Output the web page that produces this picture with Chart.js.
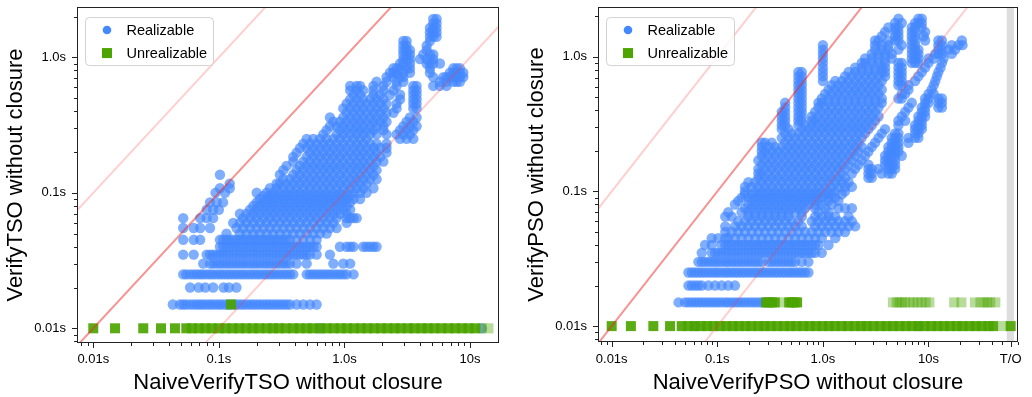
<!DOCTYPE html>
<html>
<head>
<meta charset="utf-8">
<script src="https://cdn.jsdelivr.net/npm/chart.js@4.4.1/dist/chart.umd.min.js"></script>
<style>
  html, body { margin: 0; padding: 0; background: #fff; }
  #wrap { position: relative; width: 1032px; height: 397px; }
  #tso { position: absolute; left: 0; top: 0; }
  #pso { position: absolute; left: 515px; top: 0; }
</style>
</head>
<body>
<div id="wrap">
  <canvas id="tso" width="510" height="397"></canvas>
  <canvas id="pso" width="517" height="397"></canvas>
</div>
<script>
// ---- data: each row is [y, [x, x, ...]] (seconds) ----
const seriesNames = ['Realizable', 'Unrealizable'];

const tsoRealizable = [
  [0.01, [0.64, 12.4]],
  [0.015, [0.043, 0.049, 0.052, 0.055, 0.059, 0.063, 0.067, 0.071, 0.075, 0.08, 0.085, 0.09, 0.096, 0.102, 0.108, 0.115, 0.122, 0.13, 0.138, 0.147, 0.156, 0.166, 0.177, 0.188, 0.2, 0.212, 0.226, 0.24, 0.255, 0.271, 0.288, 0.306, 0.326, 0.346, 0.368, 0.416, 0.47, 0.531, 0.6]],
  [0.02, [0.059, 0.069, 0.078, 0.09, 0.109, 0.12, 0.138]],
  [0.025, [0.052, 0.055, 0.059, 0.063, 0.067, 0.071, 0.075, 0.08, 0.085, 0.09, 0.096, 0.102, 0.108, 0.115, 0.122, 0.13, 0.138, 0.147, 0.156, 0.166, 0.177, 0.188, 0.2, 0.212, 0.226, 0.24, 0.255, 0.271, 0.288, 0.306, 0.326, 0.346, 0.368, 0.391, 0.5, 0.531, 0.565, 0.6, 0.638, 0.678, 0.721, 0.766, 0.815, 0.866, 0.92, 0.978, 1.04, 1.18]],
  [0.03, [0.075, 0.085, 0.09, 0.096, 0.102, 0.108, 0.115, 0.122, 0.13, 0.138, 0.147, 0.156, 0.166, 0.177, 0.188, 0.2, 0.212, 0.226, 0.24, 0.255, 0.271, 0.288, 0.306, 0.326, 0.346, 0.368, 0.416, 0.5, 0.815, 0.978, 1.11]],
  [0.035, [0.052, 0.063, 0.08, 0.085, 0.09, 0.096, 0.102, 0.108, 0.115, 0.122, 0.13, 0.138, 0.147, 0.156, 0.166, 0.177, 0.188, 0.2, 0.212, 0.226, 0.24, 0.255, 0.271, 0.288, 0.306, 0.326, 0.346, 0.368, 0.391, 0.416, 0.442, 0.47, 0.5, 0.531, 0.6, 0.766]],
  [0.04, [0.102, 0.108, 0.115, 0.122, 0.13, 0.138, 0.147, 0.156, 0.166, 0.177, 0.188, 0.2, 0.212, 0.226, 0.24, 0.255, 0.271, 0.288, 0.306, 0.326, 0.346, 0.368, 0.391, 0.416, 0.442, 0.47, 0.5, 0.531, 0.565, 0.6, 0.92, 1.04, 1.11, 1.18, 1.41, 1.5, 1.6, 1.7, 1.8]],
  [0.045, [0.052, 0.063, 0.071, 0.102, 0.108, 0.115, 0.122, 0.13, 0.138, 0.147, 0.156, 0.166, 0.177, 0.188, 0.2, 0.212, 0.226, 0.24, 0.255, 0.271, 0.288, 0.306, 0.326, 0.346, 0.368, 0.416, 0.47, 0.531, 0.6]],
  [0.05, [0.115, 0.147, 0.166, 0.188, 0.212, 0.24, 0.271, 0.306, 0.346, 0.391, 0.442, 0.5, 0.565, 0.638, 0.721]],
  [0.055, [0.052, 0.063, 0.071, 0.085, 0.138, 0.156, 0.177, 0.2, 0.226, 0.255, 0.288, 0.326, 0.368, 0.416, 0.47, 0.531, 0.6, 0.678, 0.766, 0.866]],
  [0.06, [0.13, 0.147, 0.166, 0.188, 0.212, 0.24, 0.271, 0.306, 0.346, 0.391, 0.442, 0.5, 0.565, 0.638, 0.721, 0.815, 1.04]],
  [0.065, [0.052, 0.071, 0.08, 0.09, 0.156, 0.177, 0.2, 0.226, 0.255, 0.288, 0.326, 0.368, 0.416, 0.47, 0.531, 0.6, 0.678, 0.766, 0.866, 1.04, 1.11, 1.18, 1.25]],
  [0.07, [0.147, 0.166, 0.188, 0.212, 0.24, 0.271, 0.306, 0.346, 0.391, 0.442, 0.5, 0.565, 0.638, 0.721, 0.815, 0.92, 1.04]],
  [0.075, [0.08, 0.09, 0.1, 0.177, 0.2, 0.226, 0.255, 0.288, 0.326, 0.368, 0.416, 0.47, 0.531, 0.6, 0.678, 0.766, 0.866, 0.978, 1.11]],
  [0.08, [0.188, 0.212, 0.24, 0.271, 0.306, 0.346, 0.391, 0.442, 0.5, 0.565, 0.638, 0.721, 0.815, 0.92, 1.04]],
  [0.085, [0.085, 0.096, 0.108, 0.2, 0.226, 0.255, 0.288, 0.326, 0.368, 0.416, 0.47, 0.531, 0.6, 0.678, 0.766, 0.866, 0.978, 1.11]],
  [0.09, [0.212, 0.24, 0.271, 0.306, 0.346, 0.391, 0.442, 0.5, 0.565, 0.638, 0.721, 0.815, 0.92, 1.04, 1.18, 1.33]],
  [0.095, [0.226, 0.255, 0.288, 0.326, 0.368, 0.416, 0.47, 0.531, 0.6, 0.678, 0.766, 0.866, 0.978, 1.11]],
  [0.1, [0.094, 0.112, 0.2, 0.24, 0.271, 0.306, 0.346, 0.391, 0.442, 0.5, 0.565, 0.638, 0.721, 0.815, 0.92, 1.04, 1.18, 1.33, 1.5]],
  [0.108, [0.102, 0.122, 0.255, 0.288, 0.326, 0.368, 0.416, 0.47, 0.531, 0.6, 0.678, 0.766, 0.866, 0.978, 1.11, 1.25, 1.41, 1.7]],
  [0.117, [0.122, 0.288, 0.306, 0.346, 0.391, 0.442, 0.5, 0.565, 0.638, 0.721, 0.815, 0.92, 1.04, 1.18, 1.33, 1.5]],
  [0.126, [0.326, 0.368, 0.416, 0.47, 0.531, 0.6, 0.678, 0.766, 0.866, 0.978, 1.11, 1.25, 1.41, 1.6, 1.8]],
  [0.136, [0.102, 0.306, 0.391, 0.442, 0.5, 0.565, 0.638, 0.721, 0.815, 0.92, 1.04, 1.18, 1.33, 1.5, 1.7]],
  [0.147, [0.326, 0.416, 0.47, 0.531, 0.6, 0.678, 0.766, 0.866, 0.978, 1.11, 1.25, 1.41, 1.6, 1.8]],
  [0.158, [0.346, 0.442, 0.5, 0.565, 0.638, 0.721, 0.815, 0.92, 1.04, 1.18, 1.33, 1.5, 1.7]],
  [0.17, [0.391, 0.47, 0.531, 0.6, 0.678, 0.766, 0.866, 0.978, 1.11, 1.25, 1.41, 1.6, 1.8, 2.04]],
  [0.184, [0.391, 0.5, 0.565, 0.638, 0.721, 0.815, 0.92, 1.04, 1.18, 1.33, 1.5, 1.7, 1.92]],
  [0.198, [0.416, 0.531, 0.6, 0.678, 0.766, 0.866, 0.978, 1.11, 1.25, 1.41, 1.6, 1.8, 2.16]],
  [0.214, [0.442, 0.5, 0.565, 0.638, 0.721, 0.815, 0.92, 1.04, 1.18, 1.33, 1.5, 1.7, 1.92, 2.16]],
  [0.23, [0.47, 0.531, 0.6, 0.678, 0.766, 0.866, 0.978, 1.11, 1.25, 1.41, 1.6, 1.8, 2.16]],
  [0.25, [0.5, 0.565, 0.638, 0.721, 0.815, 0.92, 1.04, 1.18, 1.33, 1.5, 2.77, 3.12, 3.53]],
  [0.27, [0.678, 0.866, 0.978, 1.11, 1.25, 1.41, 1.6, 1.8, 2.16, 2.6, 2.94, 3.32]],
  [0.29, [0.721, 0.92, 1.04, 1.18, 1.33, 1.5, 1.7, 2.04, 2.77, 3.12, 3.53]],
  [0.31, [0.766, 0.866, 0.978, 1.11, 1.25, 1.41, 1.6, 1.8, 2.04, 2.94, 3.32, 3.75]],
  [0.335, [0.815, 0.92, 1.04, 1.18, 1.33, 1.5, 1.7, 1.92, 2.16, 3.12, 3.53]],
  [0.36, [0.766, 0.978, 1.11, 1.25, 1.41, 1.6, 1.8, 2.04, 3.32, 3.75]],
  [0.39, [1.04, 1.18, 1.33, 1.5, 1.7, 1.92, 2.16, 2.45]],
  [0.42, [0.978, 1.11, 1.25, 1.41, 1.6, 1.8, 2.04, 2.6, 3.53, 3.75]],
  [0.455, [1.04, 1.18, 1.33, 1.5, 1.7, 1.92, 2.16, 2.6, 3.53, 3.75]],
  [0.49, [1.11, 1.25, 1.41, 1.6, 1.8, 2.04, 2.77, 3.53, 3.75]],
  [0.53, [1.18, 1.33, 1.7, 1.92, 2.3, 2.77, 3.53, 3.75]],
  [0.57, [1.11, 1.25, 1.41, 1.7, 2.04, 2.45, 3.53, 3.75]],
  [0.615, [1.11, 1.25, 1.33, 1.7, 2.04, 2.6, 3.53, 3.75, 5.09, 5.75, 6.5]],
  [0.66, [1.8, 2.16, 2.6, 2.94, 5.75, 6.5, 7.35, 7.81, 8.3]],
  [0.715, [2.16, 2.45, 2.77, 2.94, 5.09, 6.12, 6.5, 6.91, 7.35, 7.81, 8.3, 8.83]],
  [0.77, [2.3, 2.45, 2.6, 2.94, 3.32, 4.79, 6.91, 7.35, 7.81, 8.3, 8.83]],
  [0.83, [2.45, 2.6, 2.77, 3.12, 3.32, 4.79, 7.35, 7.81, 8.3]],
  [0.9, [2.77, 2.94, 3.32, 4.51, 4.79, 5.09, 5.75]],
  [0.97, [2.94, 3.12, 3.32, 3.99, 4.51, 5.09]],
  [1.05, [2.94, 3.12, 3.32, 4.24, 4.79, 5.09]],
  [1.13, [2.94, 3.12, 3.32, 4.51]],
  [1.22, [2.94, 3.12, 4.51]],
  [1.32, [2.94, 3.12, 4.79]],
  [1.42, [4.79, 5.09, 5.41]],
  [1.53, [4.79, 5.09, 5.41]],
  [1.65, [4.79, 5.09, 5.41]],
  [1.78, [5.09, 5.41]],
  [1.92, [5.09, 5.41]]
];
const tsoUnrealizable = [
  [0.01, [0.01, 0.0149, 0.025, 0.0346, 0.0447, 0.055, 0.061, 0.069, 0.078, 0.088, 0.1, 0.113, 0.128, 0.145, 0.164, 0.186, 0.21, 0.24, 0.27, 0.3, 0.34, 0.39, 0.44, 0.5, 0.56, 0.64, 0.72, 0.82, 0.93, 1.05, 1.19, 1.35, 1.52, 1.72, 1.95, 2.2, 2.5, 2.8, 3.2, 3.6, 4.1, 4.6, 5.2, 5.9, 6.7, 7.6, 8.6, 9.7, 11]],
  [0.015, [0.125]]
];
const tsoUnrealizableFaint = [
  [0.01, [12.4, 14]]
];

const psoRealizable = [
  [0.01, [0.062, 8.1]],
  [0.015, [0.043, 0.0495, 0.0533, 0.0573, 0.0616, 0.0662, 0.0712, 0.0766, 0.0824, 0.0886, 0.0953, 0.102, 0.11, 0.119, 0.127, 0.137, 0.147, 0.158, 0.17, 0.183, 0.197, 0.212, 0.228, 0.245, 0.264, 0.283]],
  [0.02, [0.0533, 0.0573, 0.0616, 0.0662, 0.0712, 0.0824, 0.0953, 0.11, 0.127, 0.147]],
  [0.025, [0.0533, 0.0573, 0.0616, 0.0662, 0.0712, 0.0766, 0.0824, 0.0886, 0.0953, 0.102, 0.11, 0.119, 0.127, 0.137, 0.147, 0.158, 0.17, 0.183, 0.197, 0.212, 0.228, 0.245, 0.264, 0.283, 0.305, 0.328, 0.352, 0.379, 0.408, 0.439, 0.472, 0.507, 0.545, 0.586, 0.631, 0.678, 0.729]],
  [0.03, [0.0662, 0.0712, 0.0766, 0.0824, 0.0886, 0.0953, 0.102, 0.11, 0.119, 0.127, 0.137, 0.147, 0.158, 0.17, 0.183, 0.197, 0.212, 0.228, 0.245, 0.264, 0.305, 0.328, 0.352, 0.379, 0.408, 0.439, 0.472, 0.507, 0.545, 0.631, 0.729]],
  [0.035, [0.0712, 0.0886, 0.0953, 0.102, 0.11, 0.119, 0.127, 0.137, 0.147, 0.158, 0.17, 0.183, 0.197, 0.212, 0.228, 0.245, 0.264, 0.283, 0.305, 0.328, 0.352, 0.379, 0.408, 0.439, 0.472, 0.507, 0.545, 0.586, 0.631, 0.678, 0.729, 0.785, 0.844, 0.976]],
  [0.04, [0.0766, 0.0886, 0.11, 0.119, 0.127, 0.137, 0.147, 0.158, 0.17, 0.183, 0.197, 0.212, 0.228, 0.245, 0.264, 0.283, 0.305, 0.328, 0.352, 0.379, 0.408, 0.439, 0.472, 0.507, 0.545, 0.586, 0.631, 0.678, 0.729, 0.785, 0.844, 0.907, 1.13]],
  [0.045, [0.0886, 0.102, 0.119, 0.127, 0.147, 0.17, 0.197, 0.228, 0.264, 0.305, 0.352, 0.408, 0.472, 0.545, 0.631, 0.729, 0.844, 0.976, 1.31]],
  [0.05, [0.119, 0.137, 0.158, 0.183, 0.212, 0.245, 0.283, 0.328, 0.379, 0.439, 0.507, 0.586, 0.678, 0.785, 0.907, 1.05, 1.21, 1.4, 1.62]],
  [0.055, [0.119, 0.147, 0.17, 0.197, 0.228, 0.264, 0.305, 0.352, 0.408, 0.472, 0.545, 0.631, 0.844, 0.976, 1.13, 1.31, 1.51, 1.75, 2.02]],
  [0.06, [0.158, 0.183, 0.212, 0.245, 0.283, 0.328, 0.379, 0.439, 0.507, 0.586, 0.785, 0.907, 1.05, 1.21, 1.4, 1.62, 1.88]],
  [0.065, [0.119, 0.137, 0.197, 0.228, 0.264, 0.305, 0.352, 0.408, 0.472, 0.631, 0.844, 0.976, 1.13, 1.31, 1.75]],
  [0.07, [0.127, 0.17, 0.197, 0.228, 0.264, 0.305, 0.352, 0.408, 0.472, 0.545, 0.631, 0.907, 1.13]],
  [0.075, [0.183, 0.212, 0.245, 0.283, 0.328, 0.379, 0.439, 0.507, 0.586, 0.678, 0.844, 1.05, 1.4, 1.62, 1.88]],
  [0.08, [0.147, 0.197, 0.228, 0.264, 0.305, 0.352, 0.408, 0.472, 0.545, 0.631, 0.729, 0.844, 0.976, 1.21]],
  [0.085, [0.158, 0.212, 0.245, 0.283, 0.328, 0.379, 0.439, 0.507, 0.586, 0.678, 0.785, 0.907, 1.13, 1.4]],
  [0.09, [0.17, 0.197, 0.228, 0.264, 0.305, 0.352, 0.408, 0.472, 0.545, 0.631, 0.729, 0.844, 0.976, 1.13, 1.31]],
  [0.095, [0.183, 0.212, 0.245, 0.283, 0.328, 0.379, 0.439, 0.507, 0.586, 0.678, 0.785, 0.907, 1.05, 1.21, 1.51]],
  [0.1, [0.183, 0.228, 0.264, 0.305, 0.352, 0.408, 0.472, 0.545, 0.631, 0.729, 0.844, 0.976, 1.13, 1.31, 1.62]],
  [0.108, [0.183, 0.212, 0.245, 0.283, 0.328, 0.379, 0.439, 0.507, 0.586, 0.678, 0.785, 0.907, 1.05, 1.21, 1.4, 1.62, 1.88]],
  [0.117, [0.197, 0.228, 0.264, 0.305, 0.352, 0.408, 0.472, 0.545, 0.631, 0.729, 0.844, 0.976, 1.13, 1.31, 1.51, 1.75]],
  [0.126, [0.245, 0.283, 0.328, 0.379, 0.439, 0.507, 0.586, 0.678, 0.785, 0.907, 1.05, 1.21, 1.4, 1.62, 2.7, 2.9]],
  [0.136, [0.245, 0.264, 0.305, 0.352, 0.408, 0.472, 0.545, 0.631, 0.729, 0.844, 0.976, 1.13, 1.31, 1.51, 1.88, 2.7, 2.9, 3.61, 4.17, 4.49]],
  [0.147, [0.245, 0.283, 0.328, 0.379, 0.439, 0.507, 0.586, 0.678, 0.785, 0.907, 1.05, 1.21, 1.4, 1.62, 2.02, 2.7, 2.9, 3.36, 4.17, 4.49, 4.83]],
  [0.158, [0.264, 0.305, 0.352, 0.408, 0.472, 0.545, 0.631, 0.729, 0.844, 0.976, 1.13, 1.31, 1.51, 1.75, 2.17, 2.7, 3.88, 4.17, 4.49, 4.83]],
  [0.17, [0.245, 0.283, 0.328, 0.379, 0.439, 0.507, 0.586, 0.678, 0.785, 0.907, 1.05, 1.21, 1.4, 1.62, 1.88, 2.33, 3.88, 4.17, 4.49, 4.83]],
  [0.184, [0.264, 0.305, 0.352, 0.408, 0.472, 0.545, 0.631, 0.729, 0.844, 0.976, 1.13, 1.31, 1.51, 1.75, 2.02, 2.51, 3.88, 4.17, 4.49, 4.83, 5.58]],
  [0.198, [0.264, 0.283, 0.328, 0.379, 0.439, 0.507, 0.586, 0.678, 0.785, 0.907, 1.05, 1.21, 1.4, 1.62, 1.88, 2.17, 2.7, 4.17, 4.49, 4.83, 5.19]],
  [0.214, [0.264, 0.305, 0.352, 0.408, 0.472, 0.545, 0.631, 0.729, 0.844, 0.976, 1.13, 1.31, 1.51, 1.75, 2.02, 2.33, 2.9, 4.17, 4.49, 4.83, 5.19]],
  [0.23, [0.264, 0.283, 0.328, 0.439, 0.507, 0.586, 0.678, 0.785, 0.907, 1.05, 1.21, 1.4, 1.62, 1.88, 2.17, 3.12, 4.49, 4.83, 5.19, 6.46]],
  [0.25, [0.408, 0.472, 0.545, 0.631, 0.729, 0.844, 0.976, 1.13, 1.31, 1.51, 1.75, 2.02, 2.33, 3.36, 4.49, 4.83, 5.19, 6.46, 7.47, 8.03]],
  [0.27, [0.439, 0.507, 0.586, 0.678, 0.785, 0.907, 1.05, 1.21, 1.4, 1.62, 1.88, 2.17, 2.51, 3.61, 4.83, 5.19, 7.47, 8.03]],
  [0.29, [0.408, 0.472, 0.631, 0.729, 0.844, 0.976, 1.13, 1.31, 1.51, 1.75, 2.02, 2.33, 2.7, 3.88, 7.47, 8.03, 8.64]],
  [0.31, [0.408, 0.439, 0.586, 0.678, 0.785, 0.907, 1.05, 1.21, 1.4, 1.62, 1.88, 2.17, 2.51, 2.9, 5.19, 7.47, 8.03, 8.64]],
  [0.335, [0.408, 0.439, 0.586, 0.631, 0.785, 0.844, 0.976, 1.13, 1.31, 1.51, 1.75, 2.02, 2.33, 2.7, 3.12, 5.19, 6.01, 8.03, 8.64]],
  [0.36, [0.408, 0.439, 0.586, 0.631, 0.785, 0.907, 1.05, 1.21, 1.4, 1.62, 1.88, 2.17, 2.51, 2.9, 3.36, 5.58, 8.03, 8.64, 9.29]],
  [0.39, [0.408, 0.439, 0.586, 0.631, 0.844, 0.976, 1.13, 1.31, 1.51, 1.75, 2.02, 2.33, 2.7, 3.12, 6.01, 8.64, 9.29]],
  [0.42, [0.439, 0.586, 0.631, 0.907, 1.05, 1.21, 1.4, 1.62, 1.88, 2.17, 2.51, 2.9, 3.36, 6.46, 8.64, 9.29, 12.4, 13.4]],
  [0.455, [0.439, 0.586, 0.631, 0.907, 0.976, 1.13, 1.31, 1.51, 1.75, 2.02, 2.33, 2.7, 3.12, 3.61, 6.95, 9.29, 10, 12.4, 13.4]],
  [0.49, [0.586, 0.631, 0.976, 1.13, 1.31, 1.51, 1.75, 2.02, 2.33, 2.7, 3.12, 3.61, 5.19, 5.58, 9.29, 10, 12.4, 13.4]],
  [0.53, [0.586, 0.631, 1.05, 1.21, 1.4, 1.62, 1.88, 2.17, 2.51, 2.9, 3.36, 5.58, 6.01, 10, 11.2]],
  [0.57, [0.586, 0.631, 1.13, 1.31, 1.51, 1.75, 2.02, 2.33, 2.7, 3.12, 3.61, 6.46, 10.7]],
  [0.615, [0.586, 0.631, 1.21, 1.4, 1.62, 1.88, 2.17, 2.51, 2.9, 3.36, 5.19, 5.58, 6.46, 11.2]],
  [0.66, [0.586, 0.631, 1.0, 1.31, 1.51, 1.75, 2.02, 2.33, 2.7, 3.12, 3.61, 5.19, 5.58, 7.47, 11.6]],
  [0.715, [0.586, 0.631, 1.0, 1.62, 1.88, 2.17, 2.51, 2.9, 3.36, 3.88, 5.19, 5.58, 8.03, 12]],
  [0.77, [0.586, 0.631, 1.0, 1.75, 2.02, 2.33, 2.7, 3.12, 3.61, 3.88, 5.19, 5.58, 8.64, 12.4]],
  [0.83, [1.0, 2.02, 2.33, 2.7, 3.12, 3.61, 3.88, 5.19, 5.58, 9.29, 13]],
  [0.9, [1.0, 2.33, 2.51, 2.9, 3.36, 3.88, 5.19, 5.58, 6.95, 7.47, 8.03, 10, 13.4]],
  [0.97, [1.0, 2.51, 2.9, 3.36, 3.88, 4.49, 6.95, 7.47, 8.03, 10, 11.2, 13.9]],
  [1.05, [1.0, 2.9, 3.36, 3.88, 4.49, 6.95, 7.47, 8.03, 11.6, 12.4, 13.4, 16.6]],
  [1.13, [1.0, 3.12, 3.61, 4.17, 5.19, 6.95, 7.47, 8.03, 12.4, 13.4, 15.5, 17.9]],
  [1.22, [1.0, 3.12, 3.61, 4.17, 5.58, 6.95, 7.47, 12.4, 13.4, 16.6, 19.2, 21]],
  [1.32, [3.12, 3.36, 4.17, 4.83, 5.19, 6.95, 7.47, 9.29, 12.4, 13.4, 20.7]],
  [1.42, [3.61, 4.83, 5.19, 6.95, 7.47, 9]],
  [1.53, [3.88, 4.83, 5.19, 6.95, 7.47, 9.29]],
  [1.65, [4.17, 4.83, 5.19, 6.95, 7.47, 8.64]],
  [1.78, [4.83, 5.58, 7.47, 8.03, 8.64]],
  [1.92, [5.19, 8.03, 8.64]]
];
const psoUnrealizable = [
  [0.01, [0.01, 0.0152, 0.0248, 0.0357, 0.046, 0.053, 0.061, 0.07, 0.08, 0.092, 0.106, 0.122, 0.14, 0.16, 0.185, 0.21, 0.245, 0.28, 0.32, 0.37, 0.43, 0.49, 0.56, 0.65, 0.75, 0.86, 0.99, 1.14, 1.3, 1.5, 1.73, 2.0, 2.3, 2.6, 3.0, 3.5, 4.0, 4.6, 5.3, 6.1, 7.0, 8.0, 9.2, 10.6, 12.2, 14, 16, 18.5, 21, 24.5, 28, 32, 37, 41, 60]],
  [0.015, [0.29, 0.31, 0.33, 0.35, 0.48, 0.51, 0.54, 0.57]]
];
const psoUnrealizableFaint = [
  [0.01, [51]],
  [0.015, [0.42, 4.6, 5.0, 5.3, 5.6, 6.0, 6.6, 7.2, 7.9, 8.6, 9.4, 10.2, 17.5, 20.5, 27.5, 31, 34, 36, 38.5, 43]]
];

// axis ticks and labels
const tsoXTicks = [0.01, 0.1, 1, 10];
const tsoXTickLabels = ['0.01s', '0.1s', '1.0s', '10s'];
const psoXTicks = [0.01, 0.1, 1, 10, 60];
const psoXTickLabels = ['0.01s', '0.1s', '1.0s', '10s', 'T/O'];
const yTicks = [0.01, 0.1, 1];
const yTickLabels = ['0.01s', '0.1s', '1.0s'];

// reference lines y = f * x, and the timeout band (seconds)
const diagonalFactors = [1, 10, 0.1];
const timeoutBand = [55, 64.5];

const FONT = '"Liberation Sans", Arial, sans-serif';
const BLUE = 'rgba(68, 136, 255, 0.68)';
const GREEN = 'rgba(76, 164, 0, 0.92)';
const GREEN_FAINT = 'rgba(76, 164, 0, 0.4)';

function toPoints(rows) {
    return rows.flatMap(([y, xs]) => xs.map(x => ({ x: x, y: y })));
}

function isNear(a, b) {
    return Math.abs(a - b) / b < 1e-6;
}

// 1..9 x 10^n inside the range, plus the labelled ones
function tickValues(min, max, majors) {
    const out = [];
    for (let e = -3; e <= 2; e++) {
        for (let k = 1; k <= 9; k++) {
            const v = k * Math.pow(10, e);
            if (v >= min && v <= max) out.push(v);
        }
    }
    majors.forEach(m => { if (!out.some(v => isNear(v, m))) out.push(m); });
    return out.sort((a, b) => a - b);
}

function logAxis(opt) {
    const values = tickValues(opt.min, opt.max, opt.majors);
    return {
        type: 'logarithmic',
        position: opt.position,
        min: opt.min,
        max: opt.max,
        bounds: 'data',
        afterBuildTicks: scale => {
            scale.ticks = values.map(v => ({ value: v, major: opt.majors.some(m => isNear(v, m)) }));
        },
        afterFit: scale => {
            if (opt.position === 'bottom') scale.height = opt.size;
            else scale.width = opt.size;
            scale.paddingLeft = scale.paddingRight = scale.paddingTop = scale.paddingBottom = 0;
        },
        ticks: {
            autoSkip: false,
            maxRotation: 0,
            minRotation: 0,
            padding: opt.tickPadding,
            color: '#000',
            font: { family: FONT, size: 13 },
            callback: value => {
                const i = opt.majors.findIndex(m => isNear(value, m));
                return i >= 0 ? opt.labels[i] : '';
            }
        },
        grid: { display: true, drawOnChartArea: false, drawTicks: true, tickLength: 5, tickColor: 'rgba(0,0,0,0)' },
        border: { display: false },
        title: {
            display: true,
            text: opt.title,
            color: '#000',
            font: { family: FONT, size: 22 },
            padding: opt.titlePadding
        }
    };
}

// frame, tick marks, timeout band and the legend box
const panelDecor = {
    id: 'panelDecor',
    beforeDatasetsDraw(chart, args, opts) {
        if (!opts.band) return;
        const { ctx, chartArea: a, scales: { x } } = chart;
        const x0 = x.getPixelForValue(opts.band[0]);
        const x1 = x.getPixelForValue(opts.band[1]);
        ctx.save();
        ctx.fillStyle = 'rgba(0, 0, 0, 0.13)';
        ctx.fillRect(x0, a.top, x1 - x0, a.bottom - a.top);
        ctx.restore();
    },
    afterDraw(chart, args, opts) {
        const { ctx, chartArea: a, scales: { x, y } } = chart;
        ctx.save();
        ctx.strokeStyle = '#222';
        ctx.lineWidth = 1;

        // tick marks
        ctx.beginPath();
        x.ticks.forEach(t => {
            const px = Math.round(x.getPixelForValue(t.value)) + 0.5;
            if (px < a.left - 1 || px > a.right + 1) return;
            const len = t.major ? 5 : 3;
            ctx.moveTo(px, a.bottom);
            ctx.lineTo(px, a.bottom + len);
        });
        y.ticks.forEach(t => {
            const py = Math.round(y.getPixelForValue(t.value)) + 0.5;
            if (py < a.top - 1 || py > a.bottom + 1) return;
            const len = t.major ? 5 : 3;
            ctx.moveTo(a.left, py);
            ctx.lineTo(a.left - len, py);
        });
        ctx.stroke();

        // frame
        ctx.strokeRect(Math.round(a.left) + 0.5, Math.round(a.top) + 0.5,
            Math.round(a.right - a.left) - 1, Math.round(a.bottom - a.top) - 1);

        // legend
        const bx = a.left + 8.5, by = a.top + 10.5, bw = 128, bh = 48;
        ctx.beginPath();
        ctx.roundRect(bx, by, bw, bh, 4);
        ctx.fillStyle = 'rgba(255, 255, 255, 0.8)';
        ctx.fill();
        ctx.strokeStyle = 'rgba(204, 204, 204, 0.9)';
        ctx.stroke();

        ctx.fillStyle = 'rgb(68, 136, 255)';
        ctx.beginPath();
        ctx.arc(bx + 21.5, by + 12.5, 4.3, 0, Math.PI * 2);
        ctx.fill();
        ctx.fillStyle = 'rgb(76, 164, 0)';
        ctx.fillRect(bx + 16.5, by + 30.5, 10, 10);

        ctx.fillStyle = '#000';
        ctx.font = '14.5px ' + FONT;
        ctx.textBaseline = 'middle';
        ctx.fillText(seriesNames[0], bx + 41, by + 13);
        ctx.fillText(seriesNames[1], bx + 41, by + 36);
        ctx.restore();
    }
};

function diagonal(f, xMin, xMax) {
    return {
        type: 'line',
        data: [{ x: xMin, y: xMin * f }, { x: xMax, y: xMax * f }],
        borderColor: f === 1 ? 'rgba(238, 40, 40, 0.5)' : 'rgba(255, 50, 50, 0.24)',
        borderWidth: 2,
        pointRadius: 0,
        fill: false,
        clip: 0,
        order: 0
    };
}

function makePanel(canvasId, cfg) {
    const datasets = [
        {
            label: seriesNames[0],
            data: toPoints(cfg.realizable),
            pointStyle: 'circle',
            pointRadius: 5.2,
            pointHoverRadius: 5.2,
            pointBorderWidth: 0,
            backgroundColor: BLUE,
            clip: 0,
            order: 3
        },
        {
            label: seriesNames[1] + ' (faint)',
            data: toPoints(cfg.unrealizableFaint),
            pointStyle: 'rect',
            pointRadius: 7.07,
            pointHoverRadius: 7.07,
            pointBorderWidth: 0,
            backgroundColor: GREEN_FAINT,
            clip: 0,
            order: 2
        },
        {
            label: seriesNames[1],
            data: toPoints(cfg.unrealizable),
            pointStyle: 'rect',
            pointRadius: 7.07,
            pointHoverRadius: 7.07,
            pointBorderWidth: 0,
            backgroundColor: GREEN,
            clip: 0,
            order: 1
        }
    ];
    diagonalFactors.forEach(f => datasets.push(diagonal(f, cfg.xMin, cfg.xMax)));

    return new Chart(document.getElementById(canvasId), {
        type: 'scatter',
        data: { datasets: datasets },
        options: {
            responsive: false,
            animation: false,
            events: [],
            layout: { padding: cfg.padding },
            scales: {
                x: logAxis({
                    position: 'bottom', min: cfg.xMin, max: cfg.xMax, majors: cfg.xTicks, labels: cfg.xLabels,
                    size: cfg.xSize, tickPadding: cfg.xTickPadding, title: cfg.xTitle, titlePadding: { top: 0, bottom: 1 }
                }),
                y: logAxis({
                    position: 'left', min: cfg.yMin, max: cfg.yMax, majors: yTicks, labels: yTickLabels,
                    size: cfg.ySize, tickPadding: 6, title: cfg.yTitle, titlePadding: { top: cfg.yTitleTop, bottom: 0 }
                })
            },
            plugins: {
                legend: { display: false },
                tooltip: { enabled: false },
                panelDecor: { band: cfg.band }
            }
        },
        plugins: [panelDecor]
    });
}

makePanel('tso', {
    realizable: tsoRealizable,
    unrealizable: tsoUnrealizable,
    unrealizableFaint: tsoUnrealizableFaint,
    xMin: 0.00742, xMax: 16.99, yMin: 0.00779, yMax: 2.35,
    xTicks: tsoXTicks, xLabels: tsoXTickLabels,
    xTitle: 'NaiveVerifyTSO without closure', yTitle: 'VerifyTSO without closure',
    padding: { top: 7, right: 11, bottom: 0, left: 0 },
    xSize: 54, ySize: 77, xTickPadding: 4, yTitleTop: 3,
    band: null
});

makePanel('pso', {
    realizable: psoRealizable,
    unrealizable: psoUnrealizable,
    unrealizableFaint: psoUnrealizableFaint,
    xMin: 0.00742, xMax: 70.4, yMin: 0.00762, yMax: 2.339,
    xTicks: psoXTicks, xLabels: psoXTickLabels,
    xTitle: 'NaiveVerifyPSO without closure', yTitle: 'VerifyPSO without closure',
    padding: { top: 7, right: 14, bottom: 0, left: 0 },
    xSize: 55, ySize: 83, xTickPadding: 5, yTitleTop: 9,
    band: timeoutBand
});
</script>
</body>
</html>
